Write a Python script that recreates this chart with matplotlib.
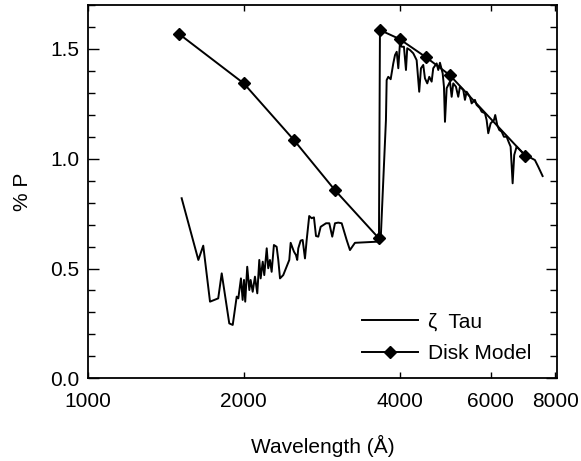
import matplotlib
matplotlib.use("Agg")
import matplotlib.pyplot as plt
from matplotlib.ticker import FixedLocator, NullLocator, MultipleLocator, FormatStrFormatter

plt.rcParams["font.family"] = ["Liberation Sans", "DejaVu Sans"]

# ---- data ------------------------------------------------------------------
# zeta Tau observed polarization (UV + optical)
zeta_wl = [1517, 1634, 1670, 1721, 1785, 1813, 1840, 1875, 1904, 1938, 1952,
           1975, 1990, 2002, 2013, 2031, 2050, 2062, 2081, 2102, 2124, 2143,
           2156, 2176, 2191, 2215, 2230, 2247, 2264, 2287, 2315, 2332, 2350,
           2384, 2449, 2464, 2500, 2523, 2537, 2549, 2576, 2599, 2626, 2646,
           2676, 2705, 2733, 2758, 2786, 2816, 2849, 2884, 2926, 2965, 3001,
           3045, 3092, 3161, 3208, 3280, 3612, 3650, 3680,
           3765, 3777, 3804, 3845, 3890, 3920, 3950, 3978, 4007, 4038, 4079,
           4116, 4139, 4190, 4252, 4316, 4366, 4400, 4445, 4479, 4525, 4566,
           4614, 4647, 4718, 4752, 4788, 4846, 4874, 4896, 4933, 5006, 5044,
           5080, 5141, 5194, 5233, 5311, 5351, 5391, 5471, 5513, 5594, 5636,
           5720, 5764, 5849, 5893, 5936, 5999, 6088, 6123, 6178, 6233, 6301,
           6365, 6442, 6498, 6557, 6616, 6663, 6735, 6835, 6988, 7145, 7305,
           7413, 7560]
zeta_p = [0.820, 0.539, 0.604, 0.349, 0.364, 0.478, 0.379, 0.250, 0.243, 0.372,
          0.364, 0.455, 0.357, 0.448, 0.349, 0.508, 0.402, 0.448, 0.394, 0.463,
          0.387, 0.539, 0.455, 0.531, 0.470, 0.592, 0.501, 0.539, 0.485, 0.607,
          0.599, 0.539, 0.455, 0.470, 0.539, 0.617, 0.577, 0.561, 0.539, 0.592,
          0.627, 0.630, 0.546, 0.630, 0.739, 0.729, 0.733, 0.648, 0.645, 0.690,
          0.698, 0.706, 0.706, 0.645, 0.706, 0.709, 0.706, 0.630, 0.584, 0.617,
          0.622, 0.630, 0.645,
          1.176, 1.358, 1.373, 1.362, 1.434, 1.472, 1.487, 1.412, 1.526, 1.510,
          1.510, 1.404, 1.503, 1.495, 1.480, 1.449, 1.305, 1.412, 1.427, 1.366,
          1.343, 1.373, 1.351, 1.412, 1.434, 1.404, 1.437, 1.389, 1.328, 1.168,
          1.321, 1.351, 1.282, 1.343, 1.328, 1.282, 1.328, 1.313, 1.268, 1.305,
          1.282, 1.252, 1.268, 1.245, 1.230, 1.214, 1.207, 1.176, 1.116, 1.161,
          1.176, 1.199, 1.153, 1.131, 1.123, 1.100, 1.100, 1.077, 1.055, 0.888,
          1.017, 1.055, 1.040, 1.017, 1.006, 0.994, 0.964, 0.921]

# disk model
model_wl = [1500, 2000, 2500, 3000, 3650, 3666, 4000, 4500, 5000, 7000]
model_p = [1.568, 1.343, 1.085, 0.857, 0.637, 1.586, 1.545, 1.462, 1.381, 1.014]

x_ticks = [1000, 2000, 4000, 6000, 8000]

# ---- figure ------------------------------------------------------------------
fig = plt.figure(figsize=(5.81, 4.61), dpi=100)
ax = fig.add_axes([88 / 581, 1 - 378.3 / 461, (557 - 88) / 581, (378.3 - 5) / 461])

ax.plot(zeta_wl, zeta_p, color="black", lw=1.4, label=r"ζ  Tau")
ax.plot(model_wl, model_p, color="black", lw=1.4, marker="D", ms=6.5,
        label="Disk Model")

ax.set_xscale("log")
ax.set_xlim(1000, 8060)
ax.set_ylim(0, 1.70)
ax.xaxis.set_major_locator(FixedLocator(x_ticks))
ax.xaxis.set_minor_locator(NullLocator())
ax.set_xticklabels([str(t) for t in x_ticks])
ax.yaxis.set_major_locator(MultipleLocator(0.5))
ax.yaxis.set_minor_locator(MultipleLocator(0.1))
ax.yaxis.set_major_formatter(FormatStrFormatter("%.1f"))

ax.tick_params(axis="both", which="both", direction="in", top=True, right=True,
               labelsize=15, width=1.0)
ax.tick_params(axis="x", which="major", length=4, pad=10)
ax.tick_params(axis="y", which="major", length=8, pad=6)
ax.tick_params(axis="y", which="minor", length=5)
for s in ax.spines.values():
    s.set_linewidth(1.3)

ax.set_xlabel("Wavelength (Å)", fontsize=15, labelpad=17)
ax.set_ylabel("% P", fontsize=15, labelpad=13)

ax.legend(loc="lower right", bbox_to_anchor=(0.985, -0.01), frameon=False,
          fontsize=15, handlelength=2.7, handletextpad=0.45, labelspacing=0.6)

fig.savefig("out.png", dpi=100)
